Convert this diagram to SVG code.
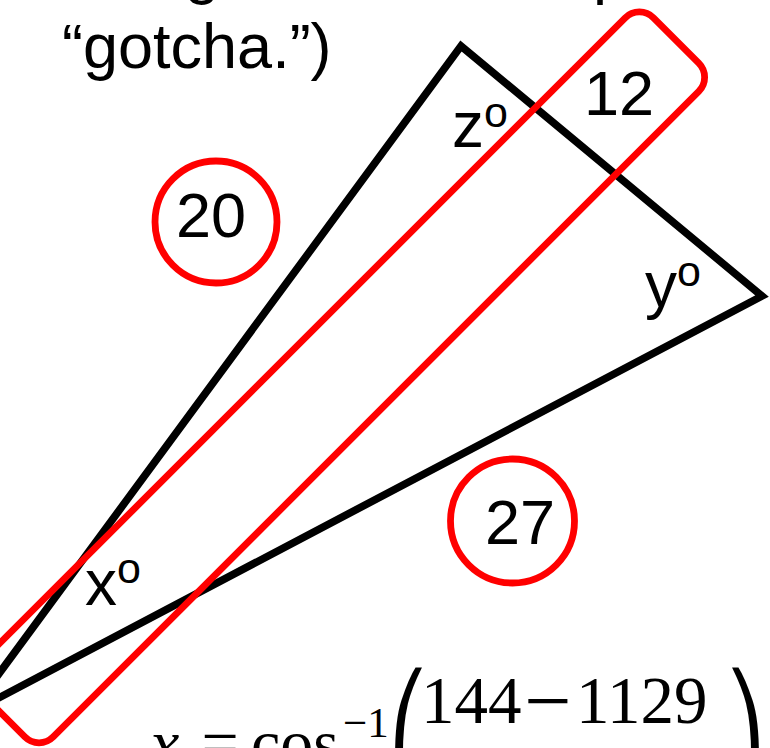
<svg xmlns="http://www.w3.org/2000/svg" width="770" height="748" viewBox="0 0 770 748">
<style>
.sans{font-family:"Liberation Sans",Arial,sans-serif;fill:#000}
.serif{font-family:"Liberation Serif","Times New Roman",serif;fill:#000}
.red{fill:none;stroke:#FF0000;stroke-width:6.8}
.blk{fill:none;stroke:#000;stroke-width:7.6;stroke-linejoin:miter}
.lab{font-size:64px}
.num{font-size:63px;text-anchor:middle}
</style>
<rect width="770" height="748" fill="#fff"/>
<g id="caption">
<text class="sans" x="62" y="-8" font-size="63">triangle,</text>
<text class="sans" x="593" y="-8" font-size="63">p</text>
<text class="sans" x="62" y="68" font-size="63">“gotcha.”)</text>
</g>
<g id="triangle">
<path class="blk" d="M -30 713 L 461 46 L 762 296 Z"/>
</g>
<g id="band">
<rect class="red" x="-503.5" y="454.7" width="953" height="104" rx="20" transform="rotate(-45)"/>
<text class="sans num" x="619" y="115">12</text>
</g>
<g id="circle20">
<circle class="red" cx="216" cy="222" r="61"/>
<text class="sans num" x="211" y="237">20</text>
</g>
<g id="circle27">
<circle class="red" cx="512.5" cy="521" r="62"/>
<text class="sans num" x="520" y="544">27</text>
</g>
<g id="angles">
<text class="sans lab" x="452" y="147">z<tspan dy="-20" font-size="43">o</tspan></text>
<text class="sans lab" x="645" y="307">y<tspan dy="-21" font-size="43">o</tspan></text>
<text class="sans lab" x="85" y="605">x<tspan dy="-22" font-size="43">o</tspan></text>
</g>
<g id="formula">
<text class="serif" x="150" y="765" font-size="66" font-style="italic">x</text>
<text class="serif" x="220" y="765" font-size="66" text-anchor="middle">=</text>
<text class="serif" x="251" y="765" font-size="66">cos</text>
<text class="serif" x="343" y="737" font-size="43">−1</text>
<text class="serif" x="388" y="745" font-size="82" font-family="DejaVu Sans">⎛</text>
<text class="serif" x="421" y="723" font-size="67">144</text>
<text class="serif" x="548" y="729" font-size="84" text-anchor="middle">−</text>
<text class="serif" x="576" y="723" font-size="67">1129</text>
<text class="serif" x="725" y="745" font-size="82" font-family="DejaVu Sans">⎞</text>
</g>
</svg>
